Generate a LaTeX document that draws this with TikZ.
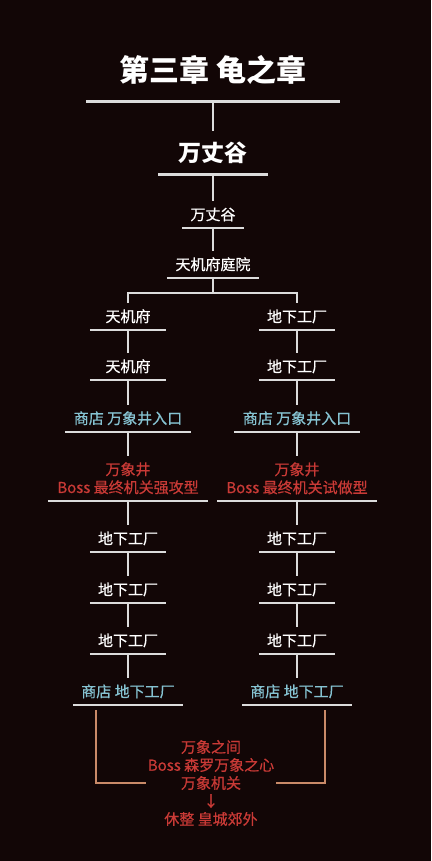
\documentclass[tikz,border=0pt]{standalone}
\usepackage{fontspec}
\newfontfamily\cjk{Noto Sans CJK SC}[FakeBold=0.6]
\newfontfamily\cjkhead{Noto Sans CJK SC}
\definecolor{bgdark}{HTML}{120606}
\definecolor{rulegray}{HTML}{DCDCDC}
\definecolor{shopcyan}{HTML}{86C3D2}
\definecolor{bossred}{HTML}{C93A36}
\definecolor{framebrown}{HTML}{C98A68}
\tikzset{
	stage/.style={anchor=south, minimum width=#1, inner xsep=0pt, inner ysep=6.5pt, text=white,
		font=\cjk\fontsize{15}{18}\selectfont, align=center,
		append after command={(\tikzlastnode.south west) edge[draw=rulegray, line width=1.3pt] (\tikzlastnode.south east)}},
	shop/.style={stage=#1, text=shopcyan},
	boss/.style={stage=#1, text=bossred},
	head/.style 2 args={anchor=south, minimum width=#1, inner xsep=0pt, inner ysep=#2, text=white,
		append after command={(\tikzlastnode.south west) edge[draw=rulegray, line width=3pt] (\tikzlastnode.south east)}},
	link/.style={draw=rulegray, line width=1.3pt},
	bracket/.style={draw=framebrown, line width=1.3pt}
}
\begin{document}
\begin{tikzpicture}[x=1pt, y=-1pt]
	\fill[bgdark] (0,0) rectangle (431,861);
	% chapter and area
	\node[head={254}{17.5pt}, font=\cjkhead\bfseries\fontsize{30}{33}\selectfont] (chapter) at (213,102) {第三章 龟之章};
	\node[head={109}{11pt}, font=\cjkhead\bfseries\fontsize{23}{26}\selectfont] (area) at (213,175) {万丈谷};
	\node[stage=61] (valley) at (213,228) {万丈谷};
	\node[stage=92] (yard) at (213,278) {天机府庭院};
	\coordinate (fork) at (213,293);
	% left route
	\node[stage=76] (l1) at (128,330) {天机府};
	\node[stage=76] (l2) at (128,380) {天机府};
	\node[shop=126] (l3) at (128,432) {商店 万象井入口};
	\node[boss=160] (l4) at (128,501) {万象井\\Boss 最终机关强攻型};
	\node[stage=76] (l5) at (128,552) {地下工厂};
	\node[stage=76] (l6) at (128,603) {地下工厂};
	\node[stage=76] (l7) at (128,654) {地下工厂};
	\node[shop=110] (l8) at (128,705) {商店 地下工厂};
	% right route
	\node[stage=76] (r1) at (297,330) {地下工厂};
	\node[stage=76] (r2) at (297,380) {地下工厂};
	\node[shop=126] (r3) at (297,432) {商店 万象井入口};
	\node[boss=160] (r4) at (297,501) {万象井\\Boss 最终机关试做型};
	\node[stage=76] (r5) at (297,552) {地下工厂};
	\node[stage=76] (r6) at (297,603) {地下工厂};
	\node[stage=76] (r7) at (297,654) {地下工厂};
	\node[shop=110] (r8) at (297,705) {商店 地下工厂};
	% final room
	\node[text=bossred, font=\cjk\fontsize{15}{18}\selectfont, align=center, inner sep=2pt] (finale) at (211,783)
		{万象之间\\Boss 森罗万象之心\\万象机关\\↓\\休整 皇城郊外};
	\coordinate (lfoot) at (96,710);
	\coordinate (rfoot) at (325,710);
	% connectors
	\draw[link] (chapter.south) -- (area.north) (area.south) -- (valley.north) (valley.south) -- (yard.north);
	\draw[link] (yard.south) -- (fork) -| (l1.north);
	\draw[link] (fork) -| (r1.north);
	\draw[link] (l1.south) -- (l2.north) (l2.south) -- (l3.north) (l3.south) -- (l4.north) (l4.south) -- (l5.north)
		(l5.south) -- (l6.north) (l6.south) -- (l7.north) (l7.south) -- (l8.north);
	\draw[link] (r1.south) -- (r2.north) (r2.south) -- (r3.north) (r3.south) -- (r4.north) (r4.south) -- (r5.north)
		(r5.south) -- (r6.north) (r6.south) -- (r7.north) (r7.south) -- (r8.north);
	\draw[bracket] (lfoot) |- (finale.west);
	\draw[bracket] (rfoot) |- (finale.east);
\end{tikzpicture}
\end{document}
